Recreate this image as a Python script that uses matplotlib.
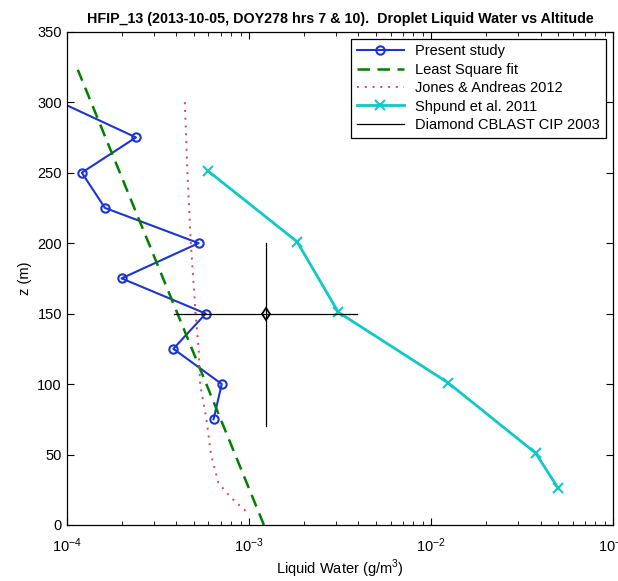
import matplotlib
matplotlib.use("Agg")
import matplotlib.pyplot as plt
from matplotlib.ticker import LogLocator, NullFormatter

plt.rcParams['font.family'] = ['Liberation Sans', 'DejaVu Sans']
plt.rcParams['mathtext.fontset'] = 'custom'
plt.rcParams['mathtext.rm'] = 'Liberation Sans'

# Present study
present_z = [300, 275, 250, 225, 200, 175, 150, 125, 100, 75]
present_lwc = [9.2e-5, 2.4e-4, 1.21e-4, 1.62e-4, 5.3e-4, 2.0e-4, 5.8e-4, 3.85e-4, 7.1e-4, 6.4e-4]

# Least square fit (endpoints)
fit_z = [0, 323]
fit_lwc = [1.21e-3, 1.15e-4]

# Jones & Andreas 2012
ja_z = [300, 250, 200, 150, 125, 100, 75, 50, 30, 20, 10]
ja_lwc = [4.45e-4, 4.6e-4, 4.8e-4, 5.1e-4, 5.3e-4, 5.4e-4, 5.85e-4, 6.2e-4, 6.8e-4, 7.9e-4, 9.6e-4]

# Shpund et al. 2011
sh_z = [251, 201, 151, 101, 51, 26]
sh_lwc = [6.0e-4, 1.84e-3, 3.1e-3, 1.24e-2, 3.76e-2, 5.0e-2]

# Diamond CBLAST CIP 2003
dia_z = 150
dia_lwc = 1.24e-3
dia_xerr_lo = 3.9e-4
dia_xerr_hi = 3.92e-3
dia_z_lo = 70
dia_z_hi = 200

fig = plt.figure(figsize=(6.18, 5.81), dpi=100)
ax = fig.add_axes([0.108, 0.0964, 0.884, 0.849])

ax.plot(present_lwc, present_z, color='#1a35d4', lw=1.5, marker='o', ms=6,
        mfc='none', mec='#1a35d4', mew=1.5, label='Present study')
ax.plot(fit_lwc, fit_z, color='#008000', lw=1.8, ls=(0, (5, 3)), label='Least Square fit')
ax.plot(ja_lwc, ja_z, color='#e0405a', lw=1.4, ls=(0, (1, 3)), label='Jones & Andreas 2012')
ax.plot(sh_lwc, sh_z, color='#10c8c8', lw=2.0, marker='x', ms=7, mew=1.5,
        label='Shpund et al. 2011')
ax.plot([dia_xerr_lo, dia_xerr_hi], [dia_z, dia_z], color='black', lw=0.9,
        label='Diamond CBLAST CIP 2003')
ax.plot([dia_lwc, dia_lwc], [dia_z_lo, dia_z_hi], color='black', lw=0.9)
ax.plot([dia_lwc], [dia_z], marker='d', ms=6, mfc='none', mec='black', mew=1.3)

ax.set_xscale('log')
ax.set_xlim(1e-4, 1e-1)
ax.set_ylim(0, 350)
ax.set_yticks(range(0, 351, 50))
ax.xaxis.set_major_locator(LogLocator(base=10, numticks=10))
ax.xaxis.set_minor_locator(LogLocator(base=10, subs=range(2, 10), numticks=20))
ax.xaxis.set_minor_formatter(NullFormatter())
ax.tick_params(which='both', direction='in', top=True, right=True, labelsize=10.5)
ax.tick_params(which='major', length=5)
ax.tick_params(which='minor', length=3)
ax.tick_params(axis='x', which='major', pad=8)
for s in ax.spines.values():
    s.set_linewidth(0.9)

ax.set_xlabel('Liquid Water (g/m$^3$)', fontsize=10.5, labelpad=2)
ax.set_ylabel('z (m)', fontsize=10.5)
ax.set_title('HFIP_13 (2013-10-05, DOY278 hrs 7 & 10).  Droplet Liquid Water vs Altitude',
             fontsize=10.3, fontweight='bold', pad=6)

leg = ax.legend(loc='upper right', bbox_to_anchor=(0.987, 0.986), fontsize=10.5,
                fancybox=False, edgecolor='black', framealpha=1, handlelength=3.2,
                borderaxespad=0, labelspacing=0.3)
leg.get_frame().set_linewidth(0.9)

fig.savefig('out.png', dpi=100)
